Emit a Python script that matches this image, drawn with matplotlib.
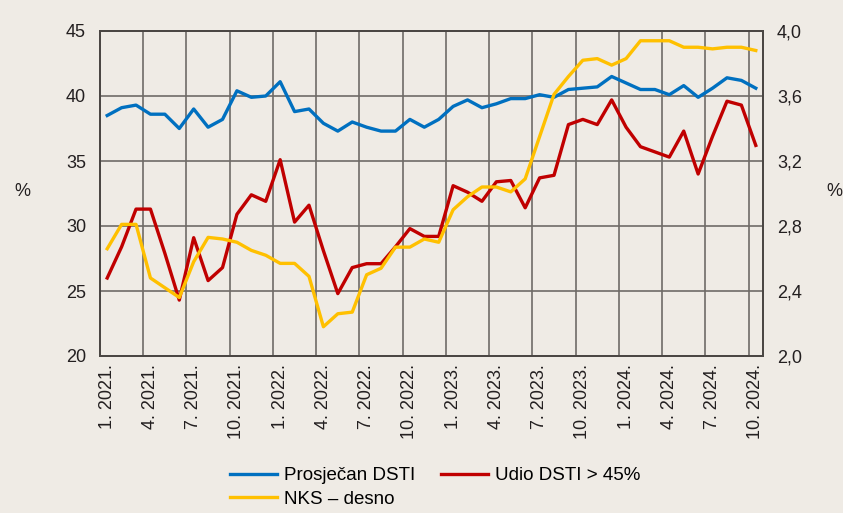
import matplotlib.pyplot as plt
import numpy as np
from matplotlib.ticker import FuncFormatter

# monthly, 1/2021 - 10/2024
months = [f"{m}. {y}." for y in range(2021, 2025) for m in range(1, 13)][:46]

prosjecan_dsti = [
    38.5, 39.1, 39.3, 38.6, 38.6, 37.5, 39.0, 37.6, 38.2, 40.4,
    39.9, 40.0, 41.1, 38.8, 39.0, 37.9, 37.3, 38.0, 37.6, 37.3,
    37.3, 38.2, 37.6, 38.2, 39.2, 39.7, 39.1, 39.4, 39.8, 39.8,
    40.1, 39.9, 40.5, 40.6, 40.7, 41.5, 41.0, 40.5, 40.5, 40.1,
    40.8, 39.9, 40.6, 41.4, 41.2, 40.6,
]

udio_dsti_45 = [
    26.0, 28.4, 31.3, 31.3, 27.9, 24.3, 29.1, 25.8, 26.8, 30.9,
    32.4, 31.9, 35.1, 30.3, 31.6, 28.1, 24.8, 26.8, 27.1, 27.1,
    28.4, 29.8, 29.2, 29.2, 33.1, 32.6, 31.9, 33.4, 33.5, 31.4,
    33.7, 33.9, 37.8, 38.2, 37.8, 39.7, 37.6, 36.1, 35.7, 35.3,
    37.3, 34.0, 36.9, 39.6, 39.3, 36.2,
]

nks = [
    2.66, 2.81, 2.81, 2.48, 2.42, 2.36, 2.58, 2.73, 2.72, 2.70,
    2.65, 2.62, 2.57, 2.57, 2.49, 2.18, 2.26, 2.27, 2.50, 2.54,
    2.67, 2.67, 2.72, 2.70, 2.90, 2.98, 3.04, 3.04, 3.01, 3.09,
    3.35, 3.61, 3.72, 3.82, 3.83, 3.79, 3.83, 3.94, 3.94, 3.94,
    3.90, 3.90, 3.89, 3.90, 3.90, 3.88,
]

BG = "#efebe5"
BLUE = "#0070c0"
RED = "#c00000"
YELLOW = "#ffc000"
GRID = "#6f6b67"

plt.rcParams["font.family"] = ["Liberation Sans", "DejaVu Sans"]

fig = plt.figure(figsize=(8.43, 5.13), dpi=100, facecolor=BG)
ax = fig.add_axes([100 / 843, 157 / 513, 663 / 843, 325 / 513])
ax.set_facecolor(BG)
ax2 = ax.twinx()

x = np.arange(len(months))
l1, = ax.plot(x, prosjecan_dsti, color=BLUE, lw=2.4, label="Prosječan DSTI", zorder=3)
l2, = ax.plot(x, udio_dsti_45, color=RED, lw=2.4, label="Udio DSTI > 45%", zorder=3)
l3, = ax2.plot(x, nks, color=YELLOW, lw=2.4, label="NKS – desno", zorder=3)

ax.set_xlim(-0.5, len(months) - 0.5)
ax.set_ylim(20, 45)
ax2.set_ylim(2.0, 4.0)
ax.set_yticks([20, 25, 30, 35, 40, 45])
ax2.set_yticks([2.0, 2.4, 2.8, 3.2, 3.6, 4.0])
ax2.yaxis.set_major_formatter(FuncFormatter(lambda v, p: f"{v:.1f}".replace(".", ",")))

# grid: horizontal at y ticks, vertical between quarter ticks
for v in [25, 30, 35, 40]:
    ax.axhline(v, color=GRID, lw=1.2, zorder=1)
for v in np.arange(2.5, len(months) - 1, 3):
    ax.axvline(v, color=GRID, lw=1.4, alpha=0.85, zorder=1)

ax.set_xticks(x[::3])
ax.set_xticklabels(months[::3], rotation=90, fontsize=13)
for a in (ax, ax2):
    a.tick_params(axis="both", length=0, labelsize=13, colors="#231f20")
    for s in a.spines.values():
        s.set_color("#4a4643")
        s.set_linewidth(1.3)
ax.tick_params(axis="y", pad=10)
ax2.tick_params(axis="y", pad=10)
ax.tick_params(axis="x", pad=6)

fig.text(22 / 843, 1 - 192 / 513, "%", fontsize=13, ha="center", va="center", color="#231f20")
fig.text(834 / 843, 1 - 192 / 513, "%", fontsize=13, ha="center", va="center", color="#231f20")

fig.legend([l1, l3, l2], [l1.get_label(), l3.get_label(), l2.get_label()],
           ncol=2, loc="upper left", bbox_to_anchor=(230 / 843, 1 - 467 / 513),
           frameon=False, fontsize=13.5, handlelength=2.5, handletextpad=0.4,
           columnspacing=1.35, labelspacing=0.35, borderaxespad=0, borderpad=0)

fig.savefig("out.png", dpi=100, facecolor=BG)
